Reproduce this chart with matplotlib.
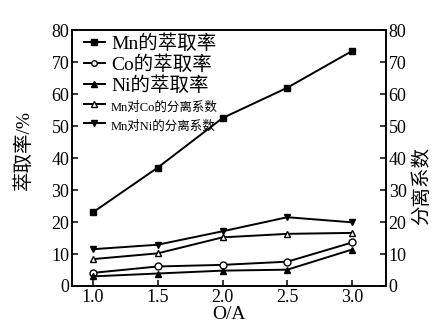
import matplotlib
matplotlib.use('Agg')
import matplotlib.pyplot as plt

plt.rcParams['font.family'] = ['Liberation Serif', 'Noto Sans CJK SC', 'DejaVu Sans']

# values
oa = [1.0, 1.5, 2.0, 2.5, 3.0]
mn_rate = [23, 37, 52.5, 62, 73.5]
co_rate = [4.1, 6.1, 6.6, 7.6, 13.6]
ni_rate = [3.0, 3.9, 4.8, 5.1, 11.4]
mn_co_sep = [8.4, 10.2, 15.2, 16.3, 16.6]
mn_ni_sep = [11.5, 12.9, 17.1, 21.5, 19.9]

labels = ['Mn的萃取率', 'Co的萃取率', 'Ni的萃取率', 'Mn对Co的分离系数', 'Mn对Ni的分离系数']

fig = plt.figure(figsize=(4.37, 3.31), dpi=100)
ax = fig.add_axes([0.165, 0.136, 0.718, 0.773])
ax2 = ax.twinx()

lw = 1.4
ms = 5
h1, = ax.plot(oa, mn_rate, color='k', lw=lw, marker='s', ms=ms)
h2, = ax.plot(oa, co_rate, color='k', lw=lw, marker='o', ms=ms, mfc='white')
h3, = ax.plot(oa, ni_rate, color='k', lw=lw, marker='^', ms=ms)
h4, = ax2.plot(oa, mn_co_sep, color='k', lw=lw, marker='^', ms=ms, mfc='white')
h5, = ax2.plot(oa, mn_ni_sep, color='k', lw=lw, marker='v', ms=ms)

for a in (ax, ax2):
    a.set_ylim(0, 80)
    a.set_yticks(range(0, 81, 10))
    a.tick_params(direction='in', length=4, width=1.1, labelsize=13, pad=2)
    for s in a.spines.values():
        s.set_linewidth(1.2)
ax.set_xlim(0.84, 3.26)
ax.set_xticks(oa)
ax.set_xticklabels(['%.1f' % v for v in oa])

ax.set_xlabel('O/A', fontsize=14, labelpad=0)
ax.set_ylabel('萃取率/%', fontsize=14)
ax.yaxis.set_label_coords(-0.125, 0.53)
ax2.set_ylabel('分离系数', fontsize=14, rotation=90)
ax2.yaxis.set_label_coords(1.085, 0.39)

# legend in upper left, last two entries in smaller type like the original
leg = ax.legend([h1, h2, h3, h4, h5], labels, loc='upper left',
                bbox_to_anchor=(0.0, 1.03), frameon=False, handlelength=1.1,
                handletextpad=0.3, labelspacing=0.12, borderaxespad=0.2,
                markerscale=0.8, fontsize=14)
for i, t in enumerate(leg.get_texts()):
    if i >= 3:
        t.set_fontsize(9)

fig.savefig('out.png', dpi=100)
